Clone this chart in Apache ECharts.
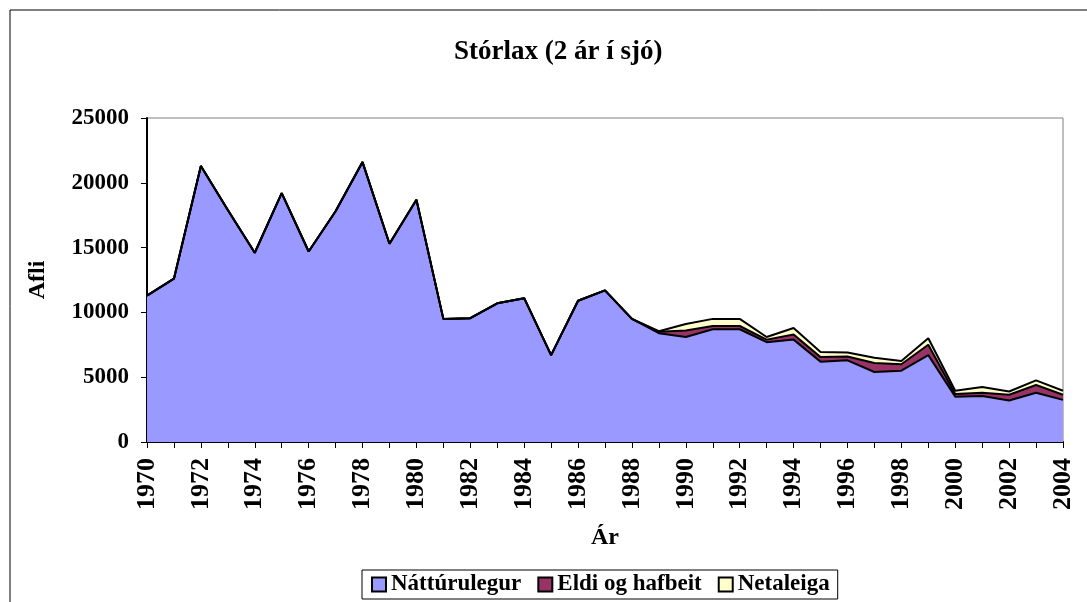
<!DOCTYPE html>
<html>
<head>
<meta charset="utf-8">
<script src="https://cdn.jsdelivr.net/npm/echarts@6/dist/echarts.min.js"></script>
<style>
  html, body { margin: 0; padding: 0; background: #fff; }
  #chart { width: 1087px; height: 602px; }
</style>
</head>
<body>
<div id="chart"></div>
<script>
// ár
var years = [];
for (var y = 1970; y <= 2004; y++) years.push(String(y));

// afli eftir uppruna (lesið af myndinni)
var natturulegur = [11300, 12600, 21300, 17900, 14600, 19200, 14700, 17800, 21600, 15300,
                    18700, 9500, 9550, 10700, 11100, 6700, 10900, 11700, 9500, 8400,
                    8100, 8700, 8700, 7700, 7900, 6200, 6300, 5400, 5500, 6700,
                    3500, 3550, 3200, 3800, 3250];
var eldiHafbeit = [0, 0, 0, 0, 0, 0, 0, 0, 0, 0,
                   0, 0, 0, 0, 0, 0, 0, 0, 0, 100,
                   500, 250, 250, 200, 400, 350, 300, 700, 500, 800,
                   200, 250, 450, 600, 400];
var netaleiga = [0, 0, 0, 0, 0, 0, 0, 0, 0, 0,
                 0, 0, 0, 0, 0, 0, 0, 0, 0, 50,
                 500, 550, 550, 200, 500, 400, 300, 400, 250, 500,
                 250, 450, 250, 350, 300];
var yTicks = [0, 5000, 10000, 15000, 20000, 25000];

var font = '"Liberation Serif", "Times New Roman", serif';
var chart = echarts.init(document.getElementById('chart'));

function layer(name, data, color) {
  return {
    name: name,
    type: 'line',
    stack: 'afli',
    data: data,
    symbol: 'none',
    color: color,
    lineStyle: { color: '#000', width: 2 },
    areaStyle: { color: color, opacity: 1 },
    itemStyle: { color: color, borderColor: '#000', borderWidth: 1 }
  };
}

chart.setOption({
  animation: false,
  textStyle: { fontFamily: font },
  title: {
    text: 'Stórlax (2 ár í sjó)',
    left: 449,
    top: 34,
    textStyle: { fontFamily: font, fontSize: 27, fontWeight: 'bold', color: '#000' }
  },
  graphic: [{
    type: 'rect',
    shape: { x: 10, y: 10, width: 1100, height: 620 },
    style: { fill: null, stroke: '#000', lineWidth: 1 },
    silent: true
  }],
  grid: {
    left: 147, right: 24, top: 118, bottom: 160,
    show: true, borderColor: '#808080', borderWidth: 1, backgroundColor: '#fff'
  },
  legend: {
    bottom: 3,
    left: 362,
    icon: 'rect',
    itemWidth: 14,
    itemHeight: 14,
    itemGap: 16,
    padding: [3, 8, 3, 9],
    borderColor: '#000',
    borderWidth: 1,
    textStyle: { fontFamily: font, fontSize: 23, fontWeight: 'bold', color: '#000' },
    data: ['Náttúrulegur', 'Eldi og hafbeit', 'Netaleiga']
  },
  xAxis: {
    type: 'category',
    data: years,
    boundaryGap: false,
    name: 'Ár',
    nameLocation: 'middle',
    nameGap: 84,
    nameTextStyle: { fontFamily: font, fontSize: 24, fontWeight: 'bold', color: '#000' },
    axisLine: { lineStyle: { color: '#000', width: 2 } },
    axisTick: { show: true, interval: 0, length: 6, inside: false, lineStyle: { color: '#000' } },
    axisLabel: {
      interval: 1, rotate: 90, margin: 16,
      fontFamily: font, fontSize: 26, fontWeight: 'bold', color: '#000'
    },
    splitLine: { show: false }
  },
  yAxis: {
    type: 'value',
    min: yTicks[0],
    max: yTicks[yTicks.length - 1],
    interval: yTicks[1] - yTicks[0],
    name: 'Afli',
    nameLocation: 'middle',
    nameGap: 97,
    nameTextStyle: { fontFamily: font, fontSize: 24, fontWeight: 'bold', color: '#000' },
    axisLine: { show: true, lineStyle: { color: '#000', width: 2 } },
    axisTick: { show: true, length: 6, lineStyle: { color: '#000' } },
    axisLabel: {
      margin: 18, fontFamily: font, fontSize: 23, fontWeight: 'bold', color: '#000',
      formatter: function (v) { return String(v); }
    },
    splitLine: { show: false }
  },
  series: [
    layer('Náttúrulegur', natturulegur, '#9999ff'),
    layer('Eldi og hafbeit', eldiHafbeit, '#993366'),
    layer('Netaleiga', netaleiga, '#ffffcc')
  ]
});
</script>
</body>
</html>
